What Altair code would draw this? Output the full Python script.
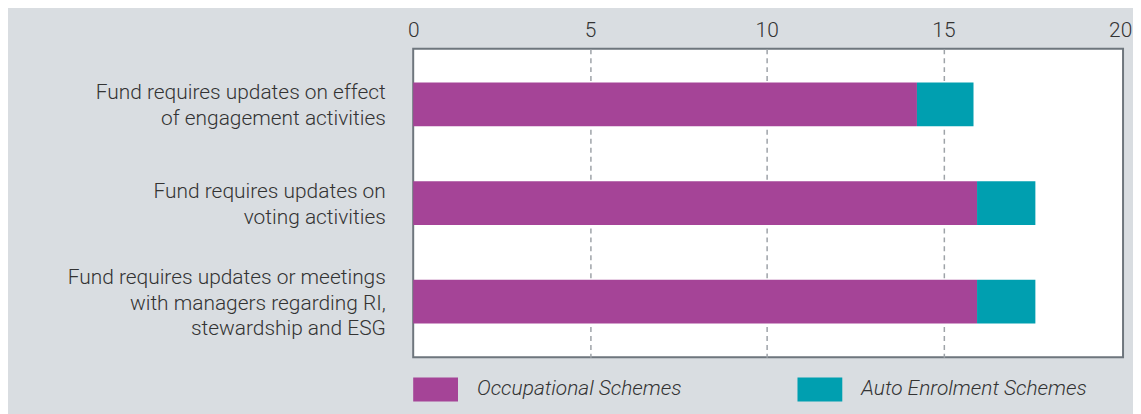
import altair as alt
import pandas as pd

categories = [
    "Fund requires updates on effect|of engagement activities",
    "Fund requires updates on|voting activities",
    "Fund requires updates or meetings|with managers regarding RI,|stewardship and ESG",
]
occupational = [14.25, 15.95, 15.95]
auto_enrolment = [1.6, 1.65, 1.65]
series = ["Occupational Schemes", "Auto Enrolment Schemes"]
colors = ["#a54497", "#009fb0"]
x_ticks = [0, 5, 10, 15, 20]

rows = []
for c, o, a in zip(categories, occupational, auto_enrolment):
    rows.append({"category": c, "series": series[0], "value": o, "order": 0})
    rows.append({"category": c, "series": series[1], "value": a, "order": 1})
df = pd.DataFrame(rows)

FONT = "Roboto"
TEXT = "#333333"
FS = 21

chart = alt.Chart(df).mark_bar().encode(
    y=alt.Y(
        "category:N",
        sort=categories,
        scale=alt.Scale(paddingInner=0.556, paddingOuter=0.343),
        axis=alt.Axis(
            title=None,
            labelExpr="split(datum.label, '|')",
            labelFont=FONT,
            labelFontWeight=300,
            labelFontSize=FS,
            labelColor=TEXT,
            labelPadding=28,
            labelLineHeight=26,
            labelLimit=500,
            labelOffset={"condition": {"test": "indexof(datum.label, 'stewardship') >= 0", "value": -24}, "value": -11},
            ticks=False,
            domain=False,
        ),
    ),
    x=alt.X(
        "value:Q",
        stack="zero",
        scale=alt.Scale(domain=[0, 20.08], nice=False),
        axis=alt.Axis(
            orient="top",
            values=x_ticks,
            title=None,
            ticks=False,
            domain=False,
            format="d",
            labelFlush=False,
            labelPadding=8,
            labelFont=FONT,
            labelFontWeight=300,
            labelFontSize=FS,
            labelColor=TEXT,
            grid=True,
            gridDash=[5, 4],
            gridColor="#9ea3a8",
            gridWidth=1.5,
            gridOpacity={"condition": {"test": "datum.value === 0 || datum.value === 20", "value": 0}, "value": 1},
        ),
    ),
    color=alt.Color(
        "series:N",
        scale=alt.Scale(domain=series, range=colors),
        legend=alt.Legend(
            title=None,
            orient="none",
            direction="horizontal",
            legendX=0,
            legendY=319.5,
            symbolType="M-1,-0.533H1V0.533H-1Z",
            symbolSize=2025,
            symbolStrokeWidth=0,
            symbolOpacity=1,
            labelFont=FONT,
            labelFontWeight=300,
            labelFontStyle="italic",
            labelFontSize=FS,
            labelColor=TEXT,
            labelOffset=19,
            columnPadding=116,
            padding=0,
            labelLimit=400,
        ),
    ),
    order=alt.Order("order:Q"),
).properties(
    width=713,
    height=310,
    background="#d9dde1",
    padding={"left": 407, "top": 40, "right": 10, "bottom": 56},
    autosize=alt.AutoSizeParams(type="none"),
).configure_view(
    fill="white",
    stroke="#6e767d",
    strokeWidth=2,
)

chart.save("out.html", embed_options={"renderer": "svg", "actions": False})
